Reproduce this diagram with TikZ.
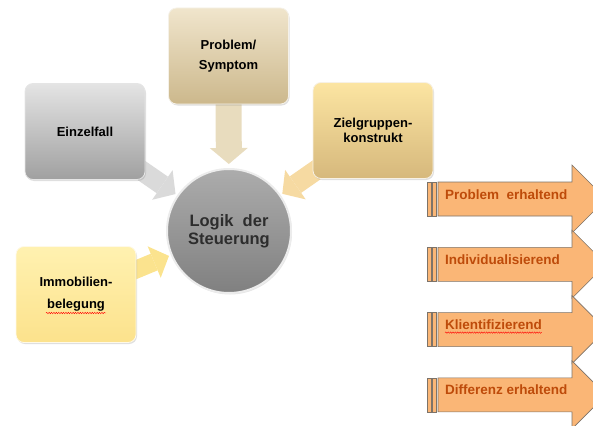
\documentclass[tikz,border=0pt]{standalone}
\usepackage{fontspec}
\setmainfont{Liberation Sans}
\usetikzlibrary{arrows.meta,backgrounds,shadows,decorations.pathmorphing}

\definecolor{einzelO}{RGB}{228,228,228}
\definecolor{einzelU}{RGB}{160,160,160}
\definecolor{problemO}{RGB}{240,229,204}
\definecolor{problemU}{RGB}{204,184,140}
\definecolor{zielO}{RGB}{252,229,162}
\definecolor{zielU}{RGB}{214,184,124}
\definecolor{immoO}{RGB}{255,241,176}
\definecolor{immoU}{RGB}{252,226,140}
\definecolor{kreisO}{RGB}{172,172,172}
\definecolor{kreisU}{RGB}{128,128,128}
\definecolor{einzelPfeil}{RGB}{218,218,218}
\definecolor{problemPfeil}{RGB}{232,220,190}
\definecolor{zielPfeil}{RGB}{246,218,162}
\definecolor{immoPfeil}{RGB}{251,227,142}
\definecolor{stufeFill}{RGB}{250,182,118}
\definecolor{stufeRand}{RGB}{125,115,105}
\definecolor{stufeText}{RGB}{190,75,10}

\begin{document}
\begin{tikzpicture}[x=1pt, y=-1pt, outer sep=0pt]

\tikzstyle{box}=[rectangle, rounded corners=8pt, minimum width=120pt, minimum height=96pt, align=center, line width=0.8pt, font=\bfseries\fontsize{13}{20}\selectfont, drop shadow={opacity=0.25, shadow xshift=1pt, shadow yshift=-1.5pt}]
\tikzstyle{zufluss}=[line width=20pt, -{Triangle[width=36pt, length=16pt, line width=0pt]}, shorten >=3pt]
\tikzstyle{stufe}=[draw=stufeRand, fill=stufeFill, line width=0.6pt]
\tikzstyle{spell}=[red, line width=0.4pt, decorate, decoration={snake, amplitude=0.7pt, segment length=2.4pt}]

\useasboundingbox (0,0) rectangle (593,425);
\clip (0,0) rectangle (593,425);

% Einflussfaktoren
\node[box, top color=einzelO, bottom color=einzelU, draw=white!80!gray] (einzel) at (85,131.5) {Einzelfall};
\node[box, top color=problemO, bottom color=problemU, draw=white!80!problemU] (problem) at (228.5,56) {Problem/\\Symptom};
\node[box, top color=zielO, bottom color=zielU, draw=white!80!zielU] (ziel) at (373,130.5) {Zielgruppen-\\[-5pt]konstrukt};
\node[box, top color=immoO, bottom color=immoU, draw=white!80!immoU] (immo) at (76,294.5) {Immobilien-\\[2pt]belegung};

\node[circle, minimum size=124pt, top color=kreisO, bottom color=kreisU, draw=white!85!gray, line width=2pt, align=center, text={rgb,255:red,45;green,45;blue,45}, font=\bfseries\fontsize{16.5}{18}\selectfont, drop shadow={opacity=0.2, shadow xshift=1pt, shadow yshift=-1.5pt}] (logik) at (229,231) {Logik\ \ der\\Steuerung};

\begin{scope}[on background layer]
\draw[zufluss, draw=einzelPfeil] (einzel.center) -- (logik);
\draw[zufluss, draw=problemPfeil, line width=26pt, -{Triangle[width=38pt, length=16pt, line width=0pt]}, shorten >=5pt] (problem.center) -- (logik);
\draw[zufluss, draw=zielPfeil] (ziel.center) -- (logik);
\draw[zufluss, draw=immoPfeil, line width=18pt, -{Triangle[width=34pt, length=16pt, line width=0pt]}] (immo.center) -- (logik);
\end{scope}

% Stufen rechts
\foreach \txt [count=\i] in {Problem\ \ erhaltend, Individualisierend, Klientifizierend, Differenz\ erhaltend}{
  \pgfmathsetmacro{\mitte}{199+65.3*(\i-1)}
  \draw[stufe] (438,\mitte-17) -- (572,\mitte-17) -- (572,\mitte-34) -- (606,\mitte) -- (572,\mitte+34) -- (572,\mitte+17) -- (438,\mitte+17) -- cycle;
  \draw[stufe] (427,\mitte-17) rectangle (431,\mitte+17);
  \draw[stufe] (432.5,\mitte-17) rectangle (436.5,\mitte+17);
  \node[anchor=base west, inner sep=0pt, text=stufeText, font=\bfseries\fontsize{13.5}{16}\selectfont] (stufe\i) at (445,\mitte) {\txt};
}

\draw[spell] ([yshift=-3pt]stufe3.base west) -- ([yshift=-3pt]stufe3.base east);
\draw[spell] ([shift={(-30pt,-18.5pt)}]immo.center) -- ([shift={(30pt,-18.5pt)}]immo.center);

\end{tikzpicture}
\end{document}
